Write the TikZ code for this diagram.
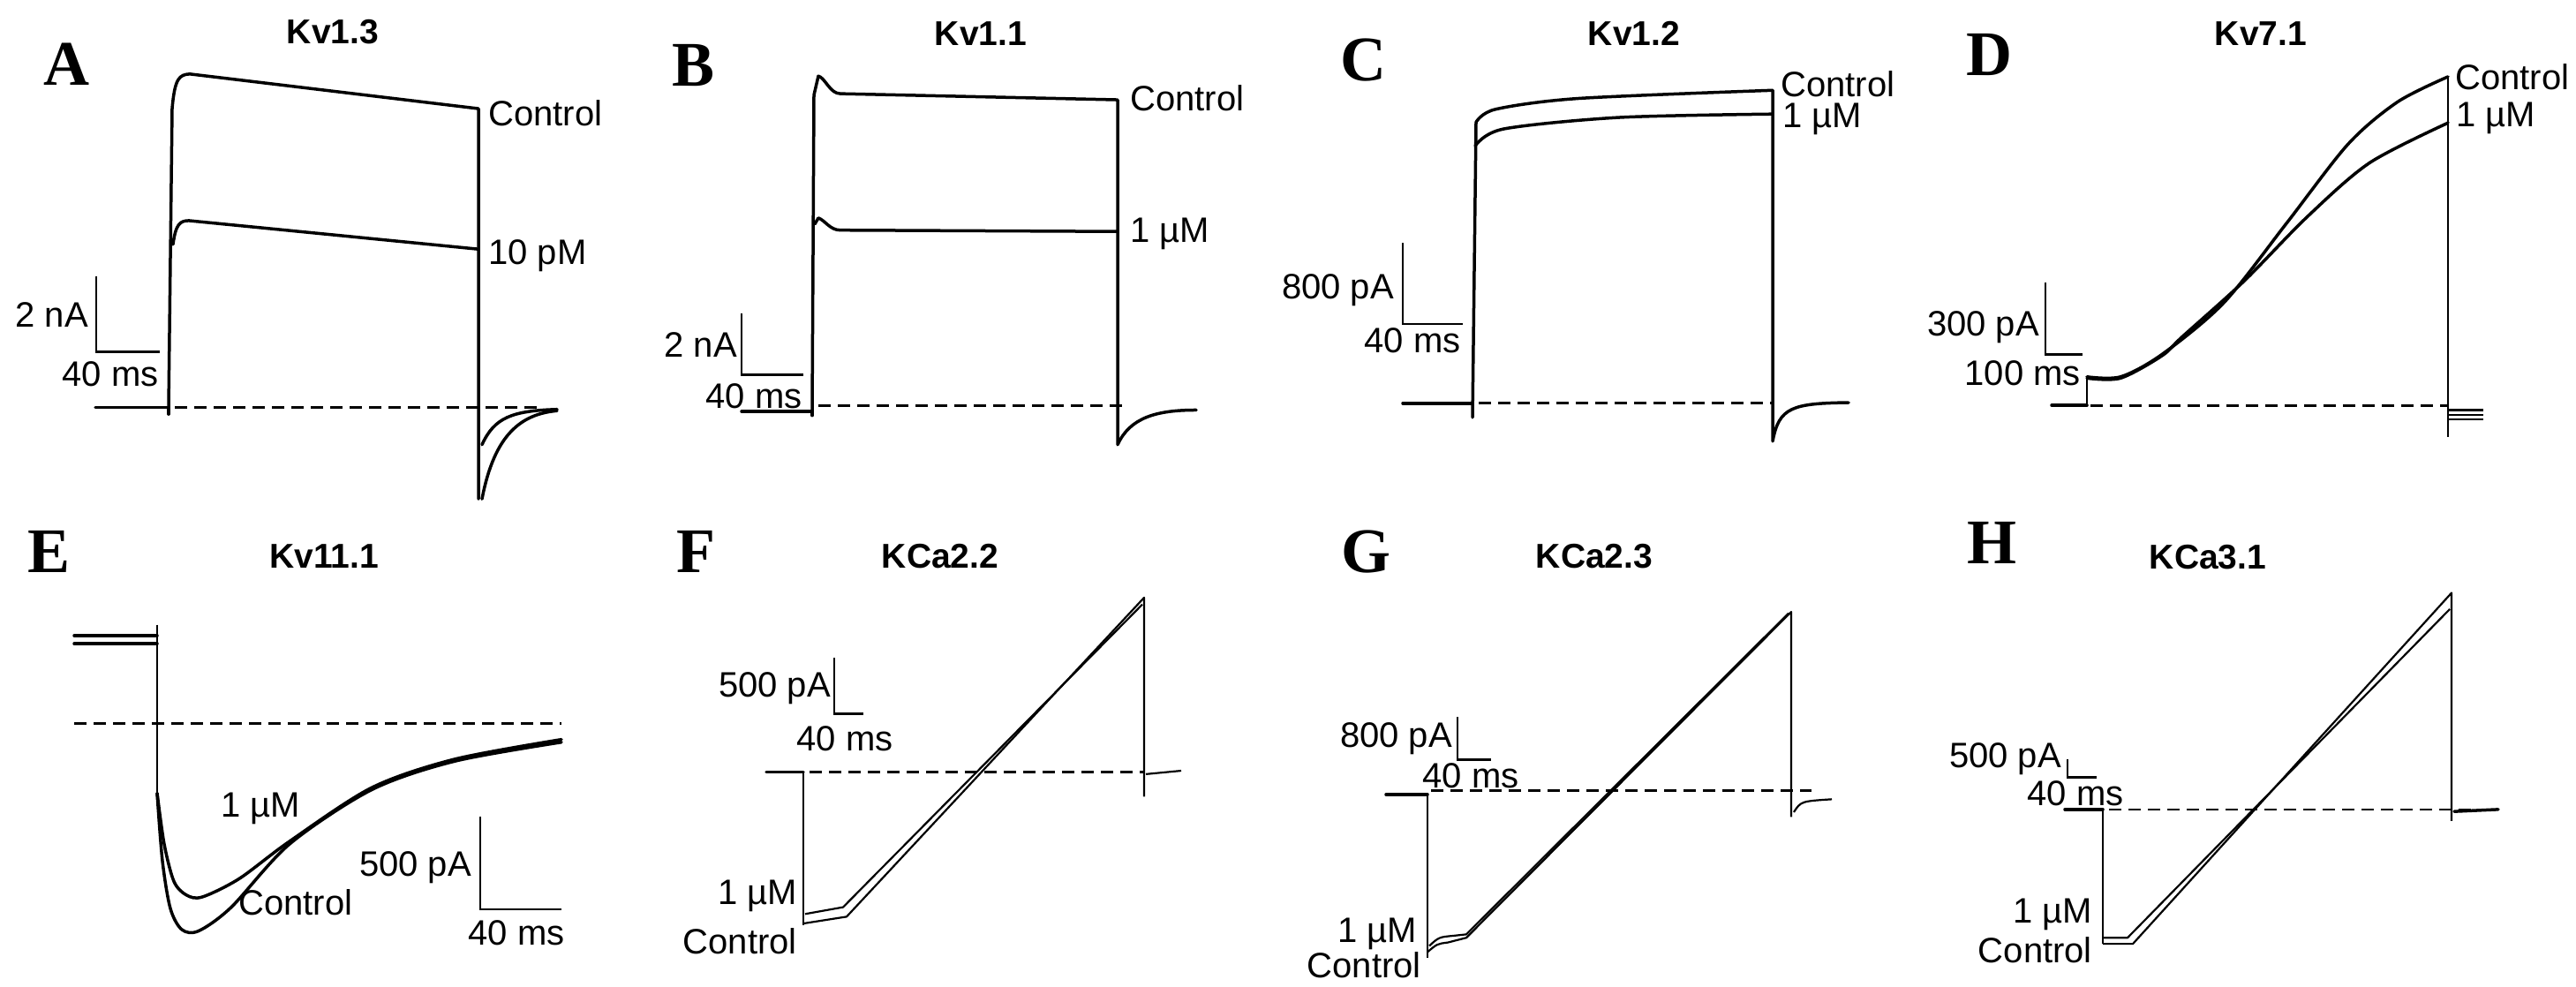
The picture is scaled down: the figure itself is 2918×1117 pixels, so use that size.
\documentclass[tikz,border=0pt]{standalone}
\usepackage{fontspec}
\setmainfont{Liberation Sans}
\newfontfamily\letterfont{Liberation Serif}
\begin{document}
\begin{tikzpicture}[x=1pt,y=-1pt,
  tr/.style={line width=3.5pt,line join=round,line cap=round},
  trthin/.style={line width=2.2pt,line join=round},
  dsh/.style={line width=3pt,dash pattern=on 14pt off 8pt},
  sbar/.style={line width=2.5pt},
  lett/.style={font=\fontsize{72}{72}\selectfont\letterfont\bfseries,inner sep=0pt},
  ttl/.style={font=\fontsize{39}{40}\selectfont\bfseries,inner sep=0pt},
  lbl/.style={font=\fontsize{40}{42}\selectfont,inner sep=0pt}]
\useasboundingbox (0,0) rectangle (2918,1117);
\fill[white] (0,0) rectangle (2918,1117);
\begin{scope}[yscale=0.769]
% ---------- Panel A
\node[lett] (lA) at (75,95) {A};
\node[ttl] (tA) at (377,47) {Kv1.3};
\draw[tr] (108,600) -- (191,600) -- (191,610);
\draw[tr] (191,600) -- (195,160) .. controls (198,115) and (203,110) .. (215,109) -- (542,160) -- (542,735);
\draw[tr] (196,360) .. controls (199,330) and (204,325) .. (214,325) -- (542,367);
\draw[tr] (546,735) .. controls (560,640) and (590,610) .. (631,605);
\draw[tr] (546,655) .. controls (560,615) and (580,605) .. (631,603);
\draw[dsh] (198,600) -- (608,600);
\node[lbl,anchor=west] (cA) at (553,167) {Control};
\node[lbl,anchor=west] (dA) at (553,377) {10 pM};
\draw[sbar] (109,407) -- (109,518) -- (181,518);
\node[lbl,anchor=east] (sA1) at (100,464) {2 nA};
\node[lbl] (sA2) at (125,551) {40 ms};
% ---------- Panel B
\node[lett] (lB) at (786,96) {B};
\node[ttl] (tB) at (1111,49) {Kv1.1};
\draw[tr] (840,606) -- (920,606) -- (920,612);
\draw[tr] (920,606) -- (922,140) -- (927,112) .. controls (935,115) and (940,138) .. (952,138) -- (1266,147) -- (1266,655) .. controls (1280,615) and (1310,604) .. (1355,604);
\draw[tr] (923,330) -- (927,321) .. controls (935,325) and (940,339) .. (952,339) -- (1266,341);
\draw[dsh] (927,597) -- (1278,597);
\node[lbl,anchor=west] (cB) at (1280,145) {Control};
\node[lbl,anchor=west] (dB) at (1280,344) {1 µM};
\draw[sbar] (840,461) -- (840,552) -- (910,552);
\node[lbl,anchor=east] (sB1) at (835,508) {2 nA};
\node[lbl] (sB2) at (854,583) {40 ms};
% ---------- Panel C
\node[lett] (lC) at (1544,89) {C};
\node[ttl] (tC) at (1851,49) {Kv1.2};
\draw[tr] (1589,594) -- (1668,594);
\draw[tr] (1668,615) -- (1672,180);
\draw[tr] plot[smooth] coordinates {(1672,180) (1694,161) (1788,145) (2008,133)};
\draw[tr] plot[smooth] coordinates {(1671,215) (1703,190) (1834,173) (2008,168)};
\draw[tr] (2008,133) -- (2008,650) .. controls (2015,600) and (2030,594) .. (2094,593);
\draw[dsh] (1675,594) -- (2008,594);
\node[lbl,anchor=west] (cC) at (2017,124) {Control};
\node[lbl,anchor=west] (dC) at (2019,175) {1 µM};
\draw[sbar] (1589,358) -- (1589,477) -- (1657,477);
\node[lbl,anchor=east] (sC1) at (1579,428) {800 pA};
\node[lbl] (sC2) at (1600,501) {40 ms};
% ---------- Panel D
\node[lett] (lD) at (2253,80) {D};
\node[ttl] (tD) at (2561,49) {Kv7.1};
\draw[tr] (2324,597) -- (2364,597);
\draw[trthin] (2364,597) -- (2364,555);
\draw[tr] plot[smooth] coordinates {(2364,555) (2402,555) (2449,522) (2519,446) (2590,329) (2660,212) (2716,150) (2773,113)};
\draw[tr] plot[smooth] coordinates {(2364,557) (2402,557) (2449,524) (2472,496) (2542,414) (2613,320) (2684,240) (2773,181)};
\draw[trthin] (2773,113) -- (2773,644);
\draw[trthin] (2773,604) -- (2813,604);
\draw[trthin] (2773,611) -- (2813,611);
\draw[trthin] (2773,618) -- (2813,618);
\draw[dsh] (2368,597) -- (2773,597);
\node[lbl,anchor=west] (cD) at (2781,113) {Control};
\node[lbl,anchor=west] (dD) at (2782,174) {1 µM};
\draw[sbar] (2317,416) -- (2317,522) -- (2359,522);
\node[lbl,anchor=east] (sD1) at (2310,482) {300 pA};
\node[lbl,anchor=east] (sD2) at (2357,550) {100 ms};
\end{scope}
\begin{scope}[shift={(0,129.4)},yscale=0.769]
% ---------- Panel E
\node[lett] (lE) at (56,645) {E};
\node[ttl] (tE) at (367,651) {Kv11.1};
\draw[tr] (84,768) -- (178,768);
\draw[tr] (84,780) -- (178,780);
\draw[trthin] (178,752) -- (178,1000);
\draw[tr] plot[smooth] coordinates {(178,1000) (184,1100) (193,1170) (206,1201) (225,1203) (262,1168) (328,1075) (421,995) (515,953) (636,925)};
\draw[tr] plot[smooth] coordinates {(178,1000) (186,1075) (197,1130) (211,1150) (229,1153) (271,1126) (328,1071) (421,992) (515,950) (636,921)};
\draw[dsh] (84,897) -- (636,897);
\node[lbl] (dE) at (295,1023) {1 µM};
\node[lbl,anchor=west] (cE) at (270,1161) {Control};
\draw[sbar] (544,1035) -- (544,1171) -- (636,1171);
\node[lbl,anchor=east] (sE1) at (534,1110) {500 pA};
\node[lbl] (sE2) at (585,1206) {40 ms};
% ---------- Panel F
\node[lett] (lF) at (788,645) {F};
\node[ttl] (tF) at (1065,651) {KCa2.2};
\draw[tr] (868,969) -- (910,969);
\draw[trthin] (910,969) -- (910,1194);
\draw[trthin] (910,1192) -- (959,1182) -- (1296,712) -- (1296,1005);
\draw[trthin] (912,1178) -- (955,1168) -- (1294,722);
\draw[trthin] (1298,972) -- (1338,967);
\draw[dsh,line width=2.5pt] (917,969) -- (1296,969);
\node[lbl,anchor=east] (dF) at (903,1152) {1 µM};
\node[lbl,anchor=east] (cF) at (903,1218) {Control};
\draw[sbar] (945,801) -- (945,883) -- (978,883);
\node[lbl,anchor=east] (sF1) at (941,845) {500 pA};
\node[lbl] (sF2) at (957,920) {40 ms};
% ---------- Panel G
\node[lett] (lG) at (1547,645) {G};
\node[ttl] (tG) at (1806,651) {KCa2.3};
\draw[tr] (1570,1002) -- (1617,1002);
\draw[trthin] (1617,1002) -- (1617,1243);
\draw[trthin] (1617,1234) .. controls (1628,1222) .. (1640,1220) -- (1661,1213) -- (2029,733) -- (2029,1035);
\draw[trthin] (1619,1225) .. controls (1630,1212) .. (1647,1210) -- (1661,1208) -- (2026,735);
\draw[trthin] (2032,1028) .. controls (2040,1012) .. (2075,1009);
\draw[dsh,line width=2.5pt] (1621,996) -- (2052,996);
\node[lbl,anchor=east] (dG) at (1605,1208) {1 µM};
\node[lbl,anchor=east] (cG) at (1610,1253) {Control};
\draw[sbar] (1651,888) -- (1651,951) -- (1689,951);
\node[lbl,anchor=east] (sG1) at (1645,920) {800 pA};
\node[lbl] (sG2) at (1666,974) {40 ms};
% ---------- Panel H
\node[lett] (lH) at (2256,632) {H};
\node[ttl] (tH) at (2501,653) {KCa3.1};
\draw[tr] (2339,1024) -- (2382,1024);
\draw[trthin] (2382,1024) -- (2382,1222);
\draw[trthin] (2382,1222) -- (2416,1222) -- (2777,705) -- (2777,1041);
\draw[trthin] (2382,1213) -- (2410,1213) -- (2775,729);
\draw[tr] (2780,1027) -- (2830,1024);
\draw[dsh,line width=2.5pt] (2389,1024) -- (2830,1024);
\node[lbl,anchor=east] (dH) at (2370,1179) {1 µM};
\node[lbl,anchor=east] (cH) at (2370,1231) {Control};
\draw[sbar] (2342,950) -- (2342,977) -- (2375,977);
\node[lbl,anchor=east] (sH1) at (2335,950) {500 pA};
\node[lbl] (sH2) at (2351,1000) {40 ms};
\end{scope}
\end{tikzpicture}
\end{document}
